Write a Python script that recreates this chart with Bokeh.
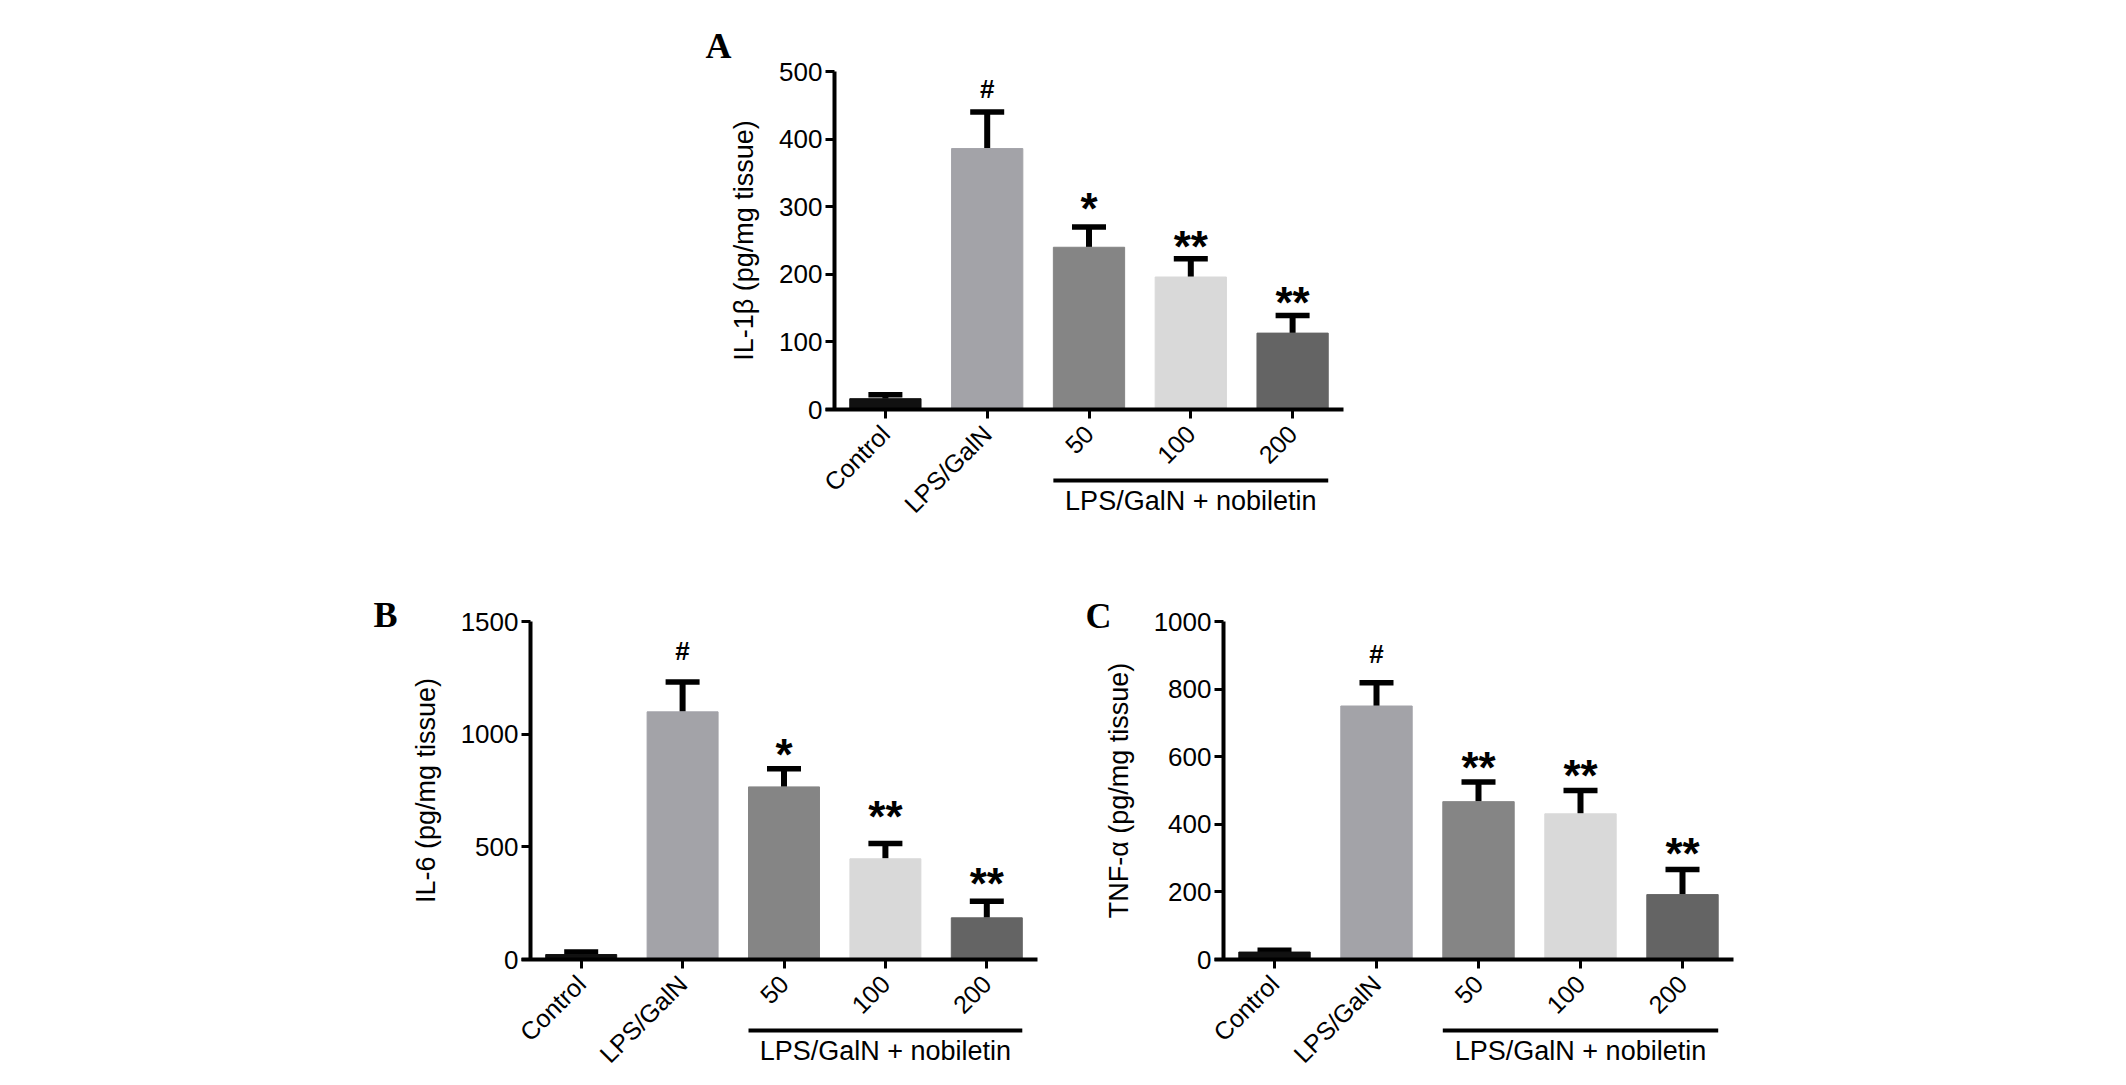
from bokeh.plotting import figure
from bokeh.models import (ColumnDataSource, Range1d, FixedTicker, LinearAxis,
                          Whisker, TeeHead, Spacer)
from bokeh.layouts import row, column
from bokeh.core.properties import value
from bokeh.embed import file_html
from bokeh.resources import INLINE
import math

# groups on the x axis
groups = ["Control", "LPS/GalN", "50", "100", "200"]
bar_colors = ["#111111", "#a3a3a8", "#858585", "#d9d9d9", "#646464"]
dose_groups = ["50", "100", "200"]
dose_label = "LPS/GalN + nobiletin"

# panel A: IL-1beta
il1b_mean = [16, 386, 240, 196, 113]
il1b_sem = [6, 54, 30, 27, 26]
il1b_marks = ["", "#", "*", "**", "**"]
il1b_mark_y = [0, 474, 308, 252, 168]

# panel B: IL-6
il6_mean = [22, 1099, 766, 447, 185]
il6_sem = [11, 133, 81, 68, 74]
il6_marks = ["", "#", "*", "**", "**"]
il6_mark_y = [0, 1370, 940, 666, 370]

# panel C: TNF-alpha
tnf_mean = [22, 750, 467, 431, 192]
tnf_sem = [5, 69, 58, 69, 74]
tnf_marks = ["", "#", "**", "**", "**"]
tnf_mark_y = [0, 905, 589, 566, 334]

FONT = "Liberation Sans"
FS = "26px"


def panel(letter, ylabel, means, sems, marks, mark_y, ymax, ystep,
          fw, fh, left, right, top, bottom, letter_dx, letter_dy):
    n = len(groups)
    xs = list(range(n))
    cat_px = fw / n
    per_px = ymax / fh
    upper = [m + s for m, s in zip(means, sems)]
    sizes = ["26px" if m == "#" else "44px" for m in marks]
    offs = [0 if m == "#" else 7 for m in marks]
    src = ColumnDataSource(dict(x=xs, mean=means, upper=upper,
                                color=bar_colors, mark=marks, my=mark_y,
                                size=sizes, off=offs))

    # the frame covers the whole canvas; the data box sits inside it
    p = figure(x_range=Range1d(-0.5 - left / cat_px, n - 0.5 + right / cat_px),
               y_range=Range1d(-bottom * per_px, ymax + top * per_px),
               width=left + fw + right, height=top + fh + bottom,
               min_border=0, x_axis_location=None, y_axis_location=None,
               output_backend="svg", toolbar_location=None)
    p.outline_line_color = None
    p.grid.visible = False
    p.background_fill_color = "white"
    p.border_fill_color = "white"

    p.vbar(x="x", top="mean", width=0.7, fill_color="color",
           line_color="color", source=src)
    p.add_layout(Whisker(base="x", upper="upper", lower="mean", source=src,
                         line_color="black", line_width=6,
                         upper_head=TeeHead(size=34, line_width=5.5,
                                            line_color="black"),
                         lower_head=None))
    p.text(x="x", y="my", text="mark", source=src, text_align="center",
           text_baseline="middle", text_font=value(FONT),
           text_font_style="bold", text_font_size="size", y_offset="off",
           text_color="black")

    # axes drawn at fixed data positions
    xax = LinearAxis(fixed_location=0,
                     bounds=(-0.5 - 9 / cat_px, n - 0.5),
                     ticker=FixedTicker(ticks=xs),
                     major_label_overrides={i: g for i, g in enumerate(groups)})
    yax = LinearAxis(fixed_location=-0.5, bounds=(0, ymax),
                     ticker=FixedTicker(ticks=list(range(0, ymax + 1, ystep))))
    for ax in (xax, yax):
        ax.axis_line_width = 4
        ax.axis_line_color = "black"
        ax.major_tick_line_width = 3
        ax.major_tick_in = 0
        ax.major_tick_out = 9
        ax.minor_tick_line_color = None
        ax.major_label_text_font = FONT
        ax.major_label_text_font_size = FS
        ax.major_label_text_color = "black"
    yax.major_label_standoff = 3
    xax.major_label_orientation = math.pi / 4
    xax.major_label_standoff = 11
    xax.major_label_text_font_size = "25px"
    p.add_layout(xax, "below")
    p.add_layout(yax, "left")

    # y axis title, centred on the value span
    label_px = 9 + 3 + len(str(ymax)) * 0.556 * 26 + 22 + 13
    p.text(x=[-0.5 - label_px / cat_px], y=[ymax / 2], text=[ylabel],
           angle=math.pi / 2, text_align="center", text_baseline="middle",
           text_font=value(FONT), text_font_size="27px", text_color="black")

    # group bracket under the dose bars
    i0 = groups.index(dose_groups[0])
    i1 = groups.index(dose_groups[-1])
    p.segment(x0=[i0 - 0.35], x1=[i1 + 0.35], y0=[-71 * per_px],
              y1=[-71 * per_px], line_width=4, line_color="black")
    p.text(x=[(i0 + i1) / 2], y=[-91 * per_px], text=[dose_label],
           text_align="center", text_baseline="middle",
           text_font=value(FONT), text_font_size="27px", text_color="black")

    # panel letter
    p.text(x=[-0.5 - letter_dx / cat_px], y=[ymax + letter_dy * per_px],
           text=[letter], text_align="center", text_baseline="middle",
           text_font=value("Liberation Serif"), text_font_style="bold",
           text_font_size="36px", text_color="black")
    return p


pa = panel("A", "IL-1\u03b2 (pg/mg tissue)", il1b_mean, il1b_sem, il1b_marks,
           il1b_mark_y, 500, 100, 509, 338, 154, 20, 71, 130, 116, 26)
pb = panel("B", "IL-6 (pg/mg tissue)", il6_mean, il6_sem, il6_marks,
           il6_mark_y, 1500, 500, 507, 338, 170, 36, 82, 120, 145, 7)
pc = panel("C", "TNF-\u03b1 (pg/mg tissue)", tnf_mean, tnf_sem, tnf_marks,
           tnf_mark_y, 1000, 200, 510, 338, 150, 20, 82, 120, 125, 6)

layout = column(row(Spacer(width=680, height=10), pa),
                row(Spacer(width=360, height=10), pb, pc))

open("out.html", "w").write(file_html(layout, INLINE))
